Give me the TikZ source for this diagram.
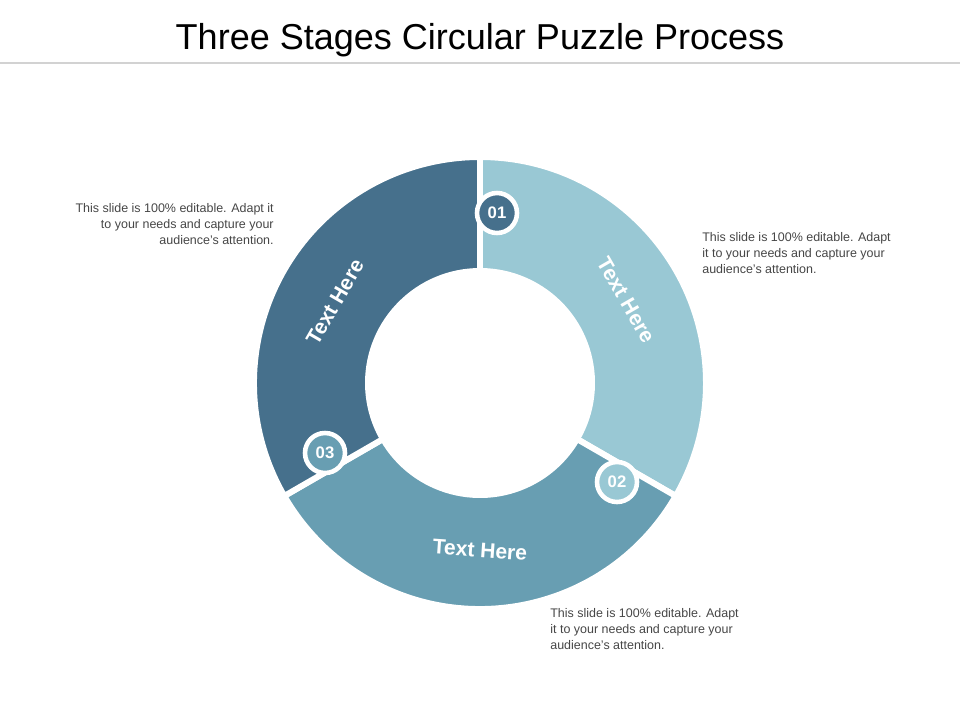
\documentclass[tikz,border=0pt]{standalone}
\usepackage{fontspec}
\setmainfont{Liberation Sans}

\definecolor{segLight}{RGB}{153,200,212}
\definecolor{segMid}{RGB}{104,158,178}
\definecolor{segDark}{RGB}{70,112,140}
\definecolor{ruleGray}{RGB}{210,210,210}
\definecolor{noteGray}{RGB}{70,70,70}

\tikzset{
  segment/.style={draw=white, line width=3.4pt},
  badge/.style={circle, draw=white, line width=2.6pt, minimum size=40*0.02cm,
    inner sep=0pt, text=white, font=\bfseries\fontsize{9.5}{9.5}\selectfont},
  seglabel/.style={text=white, font=\bfseries\fontsize{12}{12}\selectfont},
  note/.style={text=noteGray, font=\fontsize{7.1}{9}\selectfont, inner sep=0pt}
}

\begin{document}
\begin{tikzpicture}[x=0.02cm, y=-0.02cm]
\useasboundingbox (0,0) rectangle (960,720);

% Title and rule
\node (title) at (480,40) {\fontsize{20.5}{20.5}\selectfont Three Stages Circular Puzzle Process};
\draw [ruleGray, line width=1.7pt] (0,63) -- (960,63);

% Ring centre and radii (y points down, so angles are mirrored)
\coordinate (c) at (480,383);
\pgfmathsetmacro{\rout}{226}
\pgfmathsetmacro{\rin}{112}

% Three ring segments
\fill [segLight, segment] ([shift={(-90:\rout)}]c) arc (-90:30:\rout)
  -- ([shift={(30:\rin)}]c) arc (30:-90:\rin) -- cycle;
\fill [segMid, segment] ([shift={(30:\rout)}]c) arc (30:150:\rout)
  -- ([shift={(150:\rin)}]c) arc (150:30:\rin) -- cycle;
\fill [segDark, segment] ([shift={(150:\rout)}]c) arc (150:270:\rout)
  -- ([shift={(270:\rin)}]c) arc (270:150:\rin) -- cycle;

% Segment labels
\node [seglabel, rotate=-60] (lab1) at (626,300) {Text Here};
\node [seglabel, rotate=-4] (lab2) at (480,550) {Text Here};
\node [seglabel, rotate=60] (lab3) at (335,302) {Text Here};

% Puzzle badges
\node [badge, fill=segDark] (b1) at (497,213) {01};
\node [badge, fill=segLight] (b2) at (617,482) {02};
\node [badge, fill=segMid] (b3) at (325,453) {03};

% Notes
\node [note, anchor=north east, align=right] (n3) at (274,203)
  {This slide is 100\% editable. Adapt it\\to your needs and capture your\\audience's attention.};
\node [note, anchor=north west, align=left] (n1) at (702,232)
  {This slide is 100\% editable. Adapt\\it to your needs and capture your\\audience's attention.};
\node [note, anchor=north west, align=left] (n2) at (550,608)
  {This slide is 100\% editable. Adapt\\it to your needs and capture your\\audience's attention.};
\end{tikzpicture}
\end{document}
